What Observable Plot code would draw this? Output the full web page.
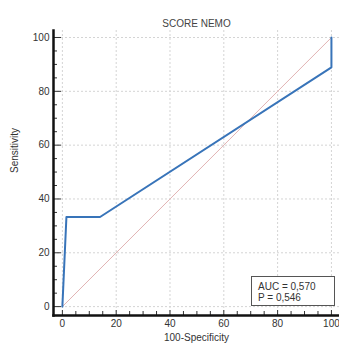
<!DOCTYPE html>
<html><head><meta charset="utf-8">
<script src="https://cdn.jsdelivr.net/npm/d3@7"></script>
<script src="https://cdn.jsdelivr.net/npm/@observablehq/plot@0.6"></script>
<style>
body{margin:0;background:#fff}
#wrap{position:relative;width:339px;height:343px}
#legend{position:absolute;left:251px;top:276px;width:76px;height:28px;border:1.5px solid #555;background:#fff;
font:10px "Liberation Sans",Arial,sans-serif;color:#333;line-height:11px;padding:0 0 0 6px;box-sizing:content-box}
#legend div:first-child{margin-top:4px}
</style>
</head><body><div id="wrap"></div><script>
// ROC curve points
const fpr = [0, 1.5, 14, 100, 100];          // 100-Specificity
const sens = [0, 33.3, 33.3, 88.9, 100];     // Sensitivity
// diagonal reference
const refX = [0, 100];
const refY = [0, 100];
const majorTicks = [0, 20, 40, 60, 80, 100];
const minorTicks = [5, 10, 15, 25, 30, 35, 45, 50, 55, 65, 70, 75, 85, 90, 95];
const titleText = ["SCORE NEMO"];
const xLabel = ["100-Specificity"];
const yLabel = ["Sensitivity"];
const statsLines = ["AUC = 0,570", "P = 0,546"];

const roc = fpr.map((x, i) => ({x, y: sens[i]}));
const ref = refX.map((x, i) => ({x, y: refY[i]}));

const chart = Plot.plot({
  width: 339, height: 343,
  marginLeft: 53, marginRight: 0, marginTop: 30, marginBottom: 28,
  style: {fontFamily: '"Liberation Sans", Arial, sans-serif', fontSize: "10px", color: "#333", background: "#fff"},
  x: {domain: [-3.3, 103]},
  y: {domain: [-3.3, 102.6]},
  marks: [
    Plot.gridX(majorTicks, {stroke: "#d4d4d4", strokeOpacity: 1, strokeDasharray: "2,2"}),
    Plot.gridY(majorTicks, {stroke: "#d4d4d4", strokeOpacity: 1, strokeDasharray: "2,2"}),
    Plot.line(ref, {x: "x", y: "y", stroke: "#e2b4b4", strokeWidth: 1}),
    Plot.line(roc, {x: "x", y: "y", stroke: "#3874b9", strokeWidth: 2}),
    Plot.axisX(majorTicks, {tickSize: 0, tickPadding: 4, label: null, fill: "#333"}),
    Plot.axisY(majorTicks, {tickSize: 0, tickPadding: 4, label: null, fill: "#333"}),
    Plot.axisX(majorTicks, {tickSize: -5, text: null, label: null, stroke: "#333"}),
    Plot.axisY(majorTicks, {tickSize: -8, text: null, label: null, stroke: "#333"}),
    Plot.axisX(minorTicks, {tickSize: -4, text: null, label: null, stroke: "#333"}),
    Plot.axisY(minorTicks, {tickSize: -4, text: null, label: null, stroke: "#333"}),
    Plot.frame({anchor: "left", stroke: "#111", strokeWidth: 2.5}),
    Plot.frame({anchor: "bottom", stroke: "#111", strokeWidth: 2.5}),
    Plot.text(titleText, {frameAnchor: "top", dy: -11, text: d => d, fill: "#444", fontSize: 10}),
    Plot.text(xLabel, {frameAnchor: "bottom", dy: 25, text: d => d, fill: "#333", fontSize: 10}),
    Plot.text(yLabel, {frameAnchor: "left", dx: -39, rotate: -90, text: d => d, fill: "#333", fontSize: 10})
  ]
});
const wrap = document.getElementById("wrap");
wrap.appendChild(chart);
const legend = document.createElement("div");
legend.id = "legend";
statsLines.forEach(t => { const d = document.createElement("div"); d.textContent = t; legend.appendChild(d); });
wrap.appendChild(legend);
</script></body></html>
